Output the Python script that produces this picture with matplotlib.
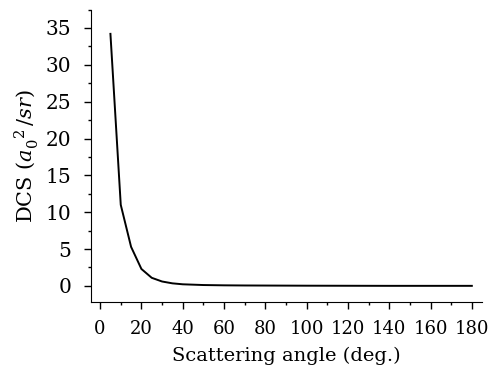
import matplotlib
matplotlib.use("Agg")
import matplotlib.pyplot as plt
from matplotlib.ticker import MultipleLocator

plt.rcParams['font.family'] = ['DejaVu Serif']
plt.rcParams['mathtext.fontset'] = 'dejavuserif'

# angulos y seccion eficaz diferencial
angulo = [5, 10, 15, 20, 25, 30, 35, 40, 50, 60, 70, 80, 90, 100, 120, 140, 160, 180]
dcs = [34.2, 11.0, 5.3, 2.3, 1.1, 0.6, 0.35, 0.22, 0.12, 0.08, 0.06, 0.05, 0.04, 0.03, 0.02, 0.01, 0.01, 0.01]

fig, ax = plt.subplots(figsize=(4.92, 3.81), dpi=100)
fig.subplots_adjust(left=0.185, right=0.98, bottom=0.207, top=0.975)

ax.plot(angulo, dcs, color='black', linewidth=1.4)

ax.set_xlim(-4.4, 185)
ax.set_ylim(-2.2, 37.5)
ax.xaxis.set_major_locator(MultipleLocator(20))
ax.xaxis.set_minor_locator(MultipleLocator(10))
ax.yaxis.set_major_locator(MultipleLocator(5))
ax.yaxis.set_minor_locator(MultipleLocator(2.5))

for lado in ['top', 'right']:
    ax.spines[lado].set_visible(False)
ax.tick_params(which='major', length=5, width=1)
ax.tick_params(axis='x', which='major', pad=8, labelsize=13)
ax.tick_params(axis='y', which='major', pad=9, labelsize=14.5)
ax.tick_params(which='minor', length=2.5, width=1)

ax.set_xlabel("Scattering angle (deg.)", fontsize=14, labelpad=6)
ax.set_ylabel(r"DCS ($a_0^{\ \ 2}\,$/$sr$)", fontsize=15)
ax.yaxis.set_label_coords(-0.128, 0.5)

fig.savefig("out.png", dpi=100)
